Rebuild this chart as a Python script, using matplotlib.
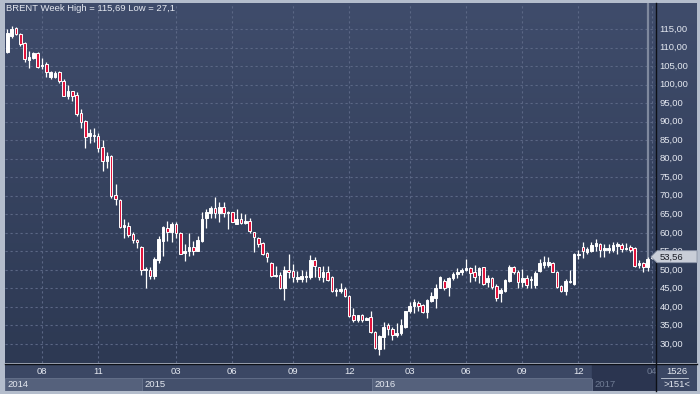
import numpy as np
import matplotlib
matplotlib.use('Agg')
import matplotlib.pyplot as plt
from matplotlib.colors import LinearSegmentedColormap
from matplotlib.patches import Rectangle, Polygon
from matplotlib.lines import Line2D

plt.rcParams['font.family'] = ['Liberation Sans', 'DejaVu Sans']

# weekly Brent candles, first bar = early June 2014, last bar = early April 2017
opens = [109.1, 108.9, 113.2, 115.2, 113.6, 111.1, 106.6, 107.3, 108.4, 104.9,
         105.6, 102.1, 102.0, 103.4, 101.1, 97.0, 98.2, 97.1, 92.2, 90.2,
         86.2, 86.0, 86.1, 83.2, 79.5, 80.6, 70.2, 68.8, 61.5, 61.9,
         59.7, 58.1, 56.3, 49.9, 50.0, 48.4, 52.6, 57.9, 61.4, 60.1,
         62.5, 60.0, 54.6, 55.1, 56.1, 55.2, 57.8, 63.9, 65.4, 66.6,
         65.4, 67.0, 65.4, 65.5, 62.5, 63.7, 62.7, 63.2, 60.1, 58.5,
         57.2, 54.6, 51.9, 48.3, 48.6, 45.2, 50.0, 49.6, 47.6, 47.5,
         48.1, 48.0, 52.7, 50.7, 48.0, 49.5, 48.0, 44.4, 44.3, 44.8,
         43.0, 37.8, 36.5, 37.7, 36.5, 37.2, 33.2, 28.6, 32.0, 35.1,
         34.0, 32.4, 33.0, 34.7, 38.9, 40.3, 41.1, 40.5, 38.6, 41.6,
         42.5, 45.2, 47.0, 45.5, 47.7, 48.8, 49.5, 50.0, 50.6, 49.3,
         48.6, 50.7, 46.8, 47.7, 45.6, 43.7, 44.4, 47.1, 50.7, 49.5,
         46.6, 47.9, 47.2, 45.9, 49.7, 51.3, 51.3, 51.9, 49.3, 45.6,
         44.4, 46.8, 46.2, 54.0, 56.1, 54.9, 55.1, 56.5, 56.9, 55.4,
         55.4, 55.4, 56.5, 56.7, 55.6, 56.1, 55.8, 51.3, 51.8, 50.9,
         53.1]
highs = [110.0, 114.9, 115.69, 115.6, 113.9, 111.5, 109.1, 108.9, 108.9, 107.1,
         106.0, 103.7, 103.7, 103.7, 101.4, 99.9, 98.4, 97.9, 93.4, 90.4,
         88.0, 88.2, 86.8, 85.0, 81.9, 81.0, 73.2, 69.0, 63.7, 63.0,
         60.3, 58.4, 56.4, 50.7, 50.7, 53.4, 59.1, 61.8, 63.2, 62.8,
         62.8, 60.2, 57.0, 60.0, 57.9, 59.1, 65.5, 66.3, 67.2, 69.7,
         68.2, 68.4, 65.9, 65.7, 66.4, 65.3, 65.0, 63.9, 60.3, 58.8,
         57.4, 54.9, 52.2, 51.0, 49.5, 51.0, 54.3, 51.6, 49.6, 50.1,
         49.8, 54.0, 53.4, 50.9, 51.0, 51.0, 48.4, 45.0, 46.4, 45.3,
         43.2, 39.6, 37.9, 38.0, 37.4, 38.9, 33.4, 32.4, 35.9, 35.7,
         34.5, 35.6, 36.7, 38.9, 41.2, 42.1, 41.6, 40.8, 42.1, 44.1,
         46.1, 48.4, 47.5, 48.2, 49.5, 50.4, 50.4, 52.9, 50.9, 51.3,
         50.9, 50.9, 48.6, 48.2, 46.2, 45.0, 47.5, 51.2, 51.1, 50.0,
         50.2, 48.6, 48.3, 49.6, 53.0, 53.7, 53.4, 52.2, 49.6, 45.9,
         47.5, 50.0, 54.5, 55.4, 57.4, 56.3, 57.6, 58.3, 57.2, 56.9,
         56.9, 57.4, 57.4, 57.2, 57.2, 56.7, 56.3, 52.7, 52.0, 53.6,
         53.7]
lows = [108.6, 108.6, 112.5, 113.4, 110.4, 106.2, 104.6, 107.0, 104.5, 104.2,
        102.0, 101.4, 101.8, 100.3, 96.8, 96.2, 95.6, 91.6, 88.2, 82.8,
        84.2, 84.6, 81.7, 76.8, 77.6, 69.5, 67.5, 61.3, 58.5, 58.9,
        57.2, 55.8, 48.6, 45.0, 47.6, 47.6, 51.8, 53.7, 57.8, 57.6,
        58.6, 54.2, 52.5, 53.7, 54.0, 55.0, 57.6, 61.4, 63.9, 64.1,
        63.0, 64.3, 61.0, 62.8, 62.3, 62.3, 62.3, 60.0, 54.9, 56.3,
        54.0, 52.2, 48.2, 48.0, 44.8, 41.9, 47.7, 46.8, 46.6, 46.8,
        46.6, 47.6, 48.2, 47.3, 46.6, 47.1, 44.0, 43.0, 43.7, 42.8,
        37.4, 36.0, 36.0, 36.0, 36.4, 33.0, 28.6, 27.1, 28.6, 32.4,
        31.1, 32.0, 32.4, 34.4, 38.3, 38.3, 38.9, 38.3, 37.1, 41.3,
        39.8, 45.0, 44.5, 43.0, 47.3, 47.7, 48.6, 49.7, 46.8, 47.0,
        46.4, 46.0, 45.5, 44.9, 41.6, 41.3, 44.1, 46.6, 48.9, 45.2,
        45.5, 45.2, 45.2, 45.2, 49.5, 50.6, 50.7, 49.3, 45.2, 44.1,
        43.2, 46.5, 45.9, 52.9, 53.1, 54.2, 54.7, 55.1, 53.6, 53.6,
        54.5, 54.9, 54.4, 54.9, 55.4, 54.9, 50.9, 50.4, 49.5, 49.7,
        52.9]
closes = [109.8, 113.8, 115.0, 113.6, 110.9, 106.8, 107.4, 108.4, 104.7, 105.2,
          103.5, 103.5, 103.1, 101.1, 97.0, 98.4, 97.0, 92.1, 90.0, 85.9,
          86.8, 86.4, 83.0, 79.5, 80.6, 69.9, 69.0, 61.5, 62.1, 59.5,
          58.0, 57.4, 50.0, 50.1, 48.4, 52.9, 58.2, 61.6, 60.1, 62.4,
          59.9, 54.3, 55.1, 56.1, 55.0, 58.1, 63.6, 65.5, 66.6, 65.4,
          67.0, 65.4, 65.6, 63.0, 63.7, 62.7, 63.3, 60.6, 58.8, 56.9,
          54.3, 53.4, 48.3, 48.6, 45.2, 50.0, 49.3, 48.0, 48.2, 48.4,
          48.2, 52.7, 51.1, 48.0, 49.5, 47.3, 44.4, 44.7, 44.8, 43.0,
          37.6, 36.5, 37.8, 36.5, 37.1, 33.2, 28.8, 32.2, 34.5, 34.0,
          32.4, 33.0, 35.1, 38.9, 40.3, 41.4, 40.3, 38.6, 41.9, 43.0,
          45.2, 48.0, 45.2, 47.9, 48.8, 49.4, 50.0, 50.4, 49.1, 48.2,
          50.6, 46.3, 47.9, 45.4, 42.3, 44.6, 47.3, 50.9, 49.5, 46.6,
          47.9, 45.9, 47.3, 49.1, 51.8, 52.0, 52.0, 49.5, 45.5, 44.4,
          47.1, 47.0, 54.4, 54.4, 55.2, 55.6, 56.7, 57.2, 55.4, 55.8,
          56.0, 56.7, 57.0, 55.6, 56.0, 55.4, 51.1, 51.8, 50.9, 52.9,
          53.56]

title = 'BRENT Week High = 115,69 Low = 27,1'
last_label = '53,56'
last_price = 53.56
price_ticks = list(range(30, 120, 5))
month_pos = [9, 22, 40, 53, 67, 80, 94, 107, 120, 133, 150]
month_labels = ['08', '11', '03', '06', '09', '12', '03', '06', '09', '12', '04']
year_labels = ['2014', '2015', '2016', '2017']
corner_top = '1526'
corner_bottom = '>151<'

W, H = 700, 394
fig = plt.figure(figsize=(W / 100, H / 100), dpi=100)
fig.patch.set_facecolor('#b4bdcc')


def box(x0, y0, x1, y1):
    # pixel box (from top-left) -> figure fraction rect
    return [x0 / W, 1 - y1 / H, (x1 - x0) / W, (y1 - y0) / H]


def px_x(px):
    # pixel column -> bar index
    return (px - 3.0) / 4.327


def px_y(py):
    # pixel row -> price
    return 30 + (344 - py) / 3.706


bg = LinearSegmentedColormap.from_list('bg', ['#2d3953', '#3f4c6b'])
grad = np.linspace(0, 1, 256).reshape(-1, 1)

# main price area
ax = fig.add_axes(box(5, 3, 656, 363))
x0, x1 = px_x(5), px_x(656)
y0, y1 = px_y(363), px_y(3)
ax.imshow(grad, cmap=bg, origin='lower', extent=[x0, x1, y0, y1],
          aspect='auto', zorder=0)
ax.set_xlim(x0, x1)
ax.set_ylim(y0, y1)
ax.axis('off')

grid_kw = dict(color='#5b6785', lw=0.8, linestyle=(0, (2, 2.5)), zorder=1)
for p in price_ticks:
    ax.axhline(p, **grid_kw)
for m in month_pos:
    ax.axvline(m, **grid_kw)

# marker line at the last bar
ax.plot([px_x(648), px_x(648)], [px_y(263), y1], color='#7f899e', lw=1.6,
        zorder=2, solid_capstyle='butt')

o = np.array(opens)
h = np.array(highs)
l = np.array(lows)
c = np.array(closes)
idx = np.arange(len(o))
up = c >= o
ax.vlines(idx, l, h, color='white', lw=0.9, zorder=3)
bottoms = np.minimum(o, c)
heights = np.maximum(np.abs(c - o), 0.22)
ax.bar(idx[up], heights[up], 0.6, bottom=bottoms[up], color='white',
       edgecolor='white', lw=0.7, zorder=4)
ax.bar(idx[~up], heights[~up], 0.6, bottom=bottoms[~up], color='#e0143c',
       edgecolor='white', lw=0.7, zorder=4)

fig.text(6 / W, 1 - 8.5 / H, title, fontsize=6.8, color='#e4e8f0',
         ha='left', va='center')

# right price panel
pax = fig.add_axes(box(656, 3, 697, 363))
pax.imshow(grad, cmap=bg, origin='lower', extent=[0, 41, y0, y1],
           aspect='auto', zorder=0)
pax.set_xlim(0, 41)
pax.set_ylim(y0, y1)
pax.axis('off')
for p in price_ticks:
    pax.text(3.5, p, f'{p},00', fontsize=6.8, color='#e4e8f0',
             ha='left', va='center', zorder=1)

# last price tag
ty = last_price
hh = 6 / 3.706
tag = Polygon([(px_x(651), ty), (px_x(657), ty + hh), (px_x(697), ty + hh),
               (px_x(697), ty - hh), (px_x(657), ty - hh)], closed=True,
              facecolor='#c9ced8', edgecolor='#8c95a8', lw=0.6,
              transform=ax.transData, clip_on=False, zorder=10)
fig.add_artist(tag)
fig.text(660 / W, 1 - 257 / H, last_label, fontsize=6.8, color='#1a1d26',
         ha='left', va='center', zorder=11)

# bottom time axis
tax = fig.add_axes(box(5, 364, 656, 391))
tax.set_xlim(x0, x1)
tax.set_ylim(0, 27)
tax.axis('off')
tax.add_patch(Rectangle((x0, 0), x1 - x0, 27, color='#3b4764', zorder=0))
year_bounds = [x0, px_x(142), px_x(372), px_x(592), x1]
year_cols = ['#55617c', '#44506c', '#55617c', '#2b3550']
for k, lab in enumerate(year_labels):
    a, b = year_bounds[k], year_bounds[k + 1]
    tax.add_patch(Rectangle((a, 0), b - a, 13, facecolor=year_cols[k],
                            edgecolor='#6c7892', lw=0.5, zorder=1))
    tcol = '#6f7b93' if k == 3 else '#e4e8f0'
    tax.text(a + 0.6, 6.5, lab, fontsize=6.8, color=tcol, ha='left',
             va='center', zorder=2)
tax.add_patch(Rectangle((year_bounds[3], 13), x1 - year_bounds[3], 14,
                        color='#2b3550', zorder=1))
for m, lab in zip(month_pos, month_labels):
    tcol = '#6f7b93' if m >= year_bounds[3] else '#e4e8f0'
    tax.text(m, 19.5, lab, fontsize=6.8, color=tcol, ha='center',
             va='center', zorder=2)

# bottom right corner box
cax = fig.add_axes(box(656, 364, 697, 391))
cax.set_xlim(0, 41)
cax.set_ylim(0, 27)
cax.axis('off')
cax.add_patch(Rectangle((0, 0), 41, 27, color='#3b4764'))
cax.text(20.5, 19.5, corner_top, fontsize=6.8, color='#e4e8f0',
         ha='center', va='center')
cax.plot([5, 32], [13.3, 13.3], color='#c8cfdb', lw=0.6)
cax.text(20.5, 6.5, corner_bottom, fontsize=6.8, color='#e4e8f0',
         ha='center', va='center')

# dark separators
fig.add_artist(Line2D([656 / W, 656 / W], [1 - 391 / H, 1 - 3 / H],
                      color='#0c0f16', lw=1.0))
fig.add_artist(Line2D([5 / W, 697 / W], [1 - 363.5 / H, 1 - 363.5 / H],
                      color='#0c0f16', lw=1.0))

fig.savefig('out.png', dpi=100, facecolor=fig.get_facecolor())
